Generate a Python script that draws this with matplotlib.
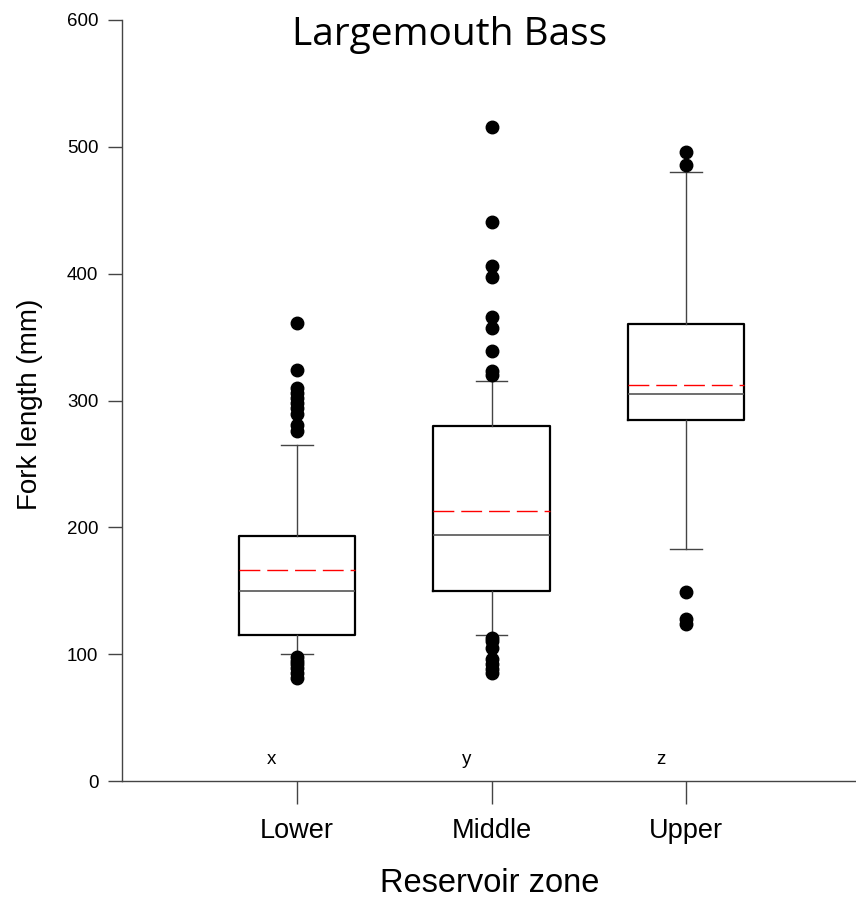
import numpy as np
import matplotlib
matplotlib.use('Agg')
import matplotlib.pyplot as plt

# summary statistics (fork length, mm)
zones = ['Lower', 'Middle', 'Upper']
letters = ['x', 'y', 'z']
q1 = [115, 150, 285]
medians = [150, 194, 305]
q3 = [193, 280, 360]
means = [166, 213, 312]
whislo = [100, 115, 183]
whishi = [265, 315, 480]
fliers_lower = [361, 324, 310, 306, 302, 298, 294, 289, 281, 276, 98, 95, 92, 89, 85, 81]
fliers_middle = [516, 441, 406, 397, 366, 357, 339, 323, 320, 113, 110, 105, 96, 92, 88, 85]
fliers_upper = [496, 486, 149, 128, 124]
fliers = [fliers_lower, fliers_middle, fliers_upper]

stats = []
for i, z in enumerate(zones):
	stats.append(dict(label=z, q1=q1[i], med=medians[i], q3=q3[i], mean=means[i],
					  whislo=whislo[i], whishi=whishi[i], fliers=np.array(fliers[i])))

fig = plt.figure(figsize=(8.56, 9.01), dpi=100)
ax = fig.add_axes([122/856, 120/901, 1 - 122/856, (781-20)/901])

pos = np.arange(1, len(zones)+1)
ax.bxp(stats, positions=pos, widths=0.6, capwidths=0.16, showmeans=True, meanline=True,
	   boxprops=dict(color='black', linewidth=1.6),
	   whiskerprops=dict(color='#444444', linewidth=1),
	   capprops=dict(color='#444444', linewidth=1),
	   medianprops=dict(color='#555555', linewidth=1.2),
	   meanprops=dict(color='red', linewidth=1, linestyle=(0, (15, 5))),
	   flierprops=dict(marker='o', markerfacecolor='black', markeredgecolor='black', markersize=9))

for p, t in zip(pos, letters):
	ax.text(p - 0.13, 17, t, ha='center', va='center', fontsize=13.5, family='Liberation Sans')

ax.set_xlim(0.1, 3.874)
ax.set_ylim(0, 600)
ax.set_yticks(np.arange(0, 601, 100))
ax.set_xticks(pos)
ax.set_xticklabels(zones, fontsize=19.5, family='Liberation Sans')
for lab in ax.get_yticklabels():
	lab.set_fontsize(13.5)
	lab.set_family('Liberation Sans')
ax.tick_params(axis='y', length=10, width=1, pad=7, color='#444444')
ax.tick_params(axis='x', length=16.5, width=1, pad=10, color='#444444')
ax.spines['top'].set_visible(False)
ax.spines['right'].set_visible(False)
for s in ['left', 'bottom']:
	ax.spines[s].set_color('#444444')
	ax.spines[s].set_linewidth(1)

fig.text(30/856, 1 - 404/901, 'Fork length (mm)', rotation=90, ha='center', va='center',
		 fontsize=20, family='Liberation Sans')
fig.text(490/856, 1 - 884/901, 'Reservoir zone', ha='center', va='center',
		 fontsize=23.5, family='Liberation Sans')
fig.text(450/856, 1 - 35/901, 'Largemouth Bass', ha='center', va='center',
		 fontsize=28, family='Open Sans')

fig.savefig('out.png', dpi=100)
